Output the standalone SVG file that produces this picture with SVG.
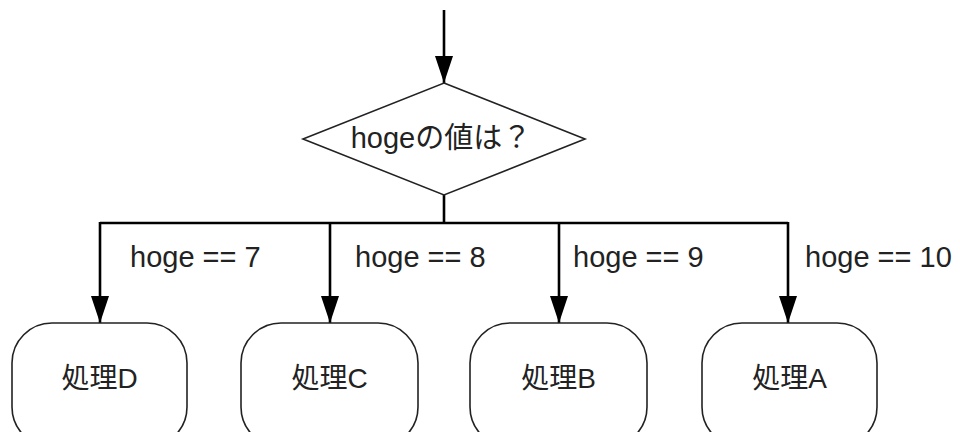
<svg xmlns="http://www.w3.org/2000/svg" width="960" height="432" viewBox="0 0 960 432">
<style>
.shape{fill:#fff;stroke:#222;stroke-width:1.6}
.line{fill:none;stroke:#000;stroke-width:2.6}
.t{font-family:"Liberation Sans","Noto Sans CJK JP",Arial,sans-serif;font-size:28px;fill:#222}
.lbl{font-size:29px}
.c{text-anchor:middle}
</style>
<defs>
<marker id="ah" viewBox="0 0 27 18" refX="27" refY="9" markerWidth="27" markerHeight="18" markerUnits="userSpaceOnUse" orient="auto">
<path d="M0,0 L27,9 L0,18 Z" fill="#000"/>
</marker>
</defs>
<g id="connectors">
<line class="line" x1="444" y1="10" x2="444" y2="83" marker-end="url(#ah)"/>
<polyline class="line" points="444,195 444,223"/>
<polyline class="line" points="100,223 788,223"/>
<line class="line" x1="100" y1="222" x2="100" y2="323" marker-end="url(#ah)"/>
<line class="line" x1="330" y1="223" x2="330" y2="323" marker-end="url(#ah)"/>
<line class="line" x1="559" y1="223" x2="559" y2="323" marker-end="url(#ah)"/>
<line class="line" x1="788" y1="222" x2="788" y2="323" marker-end="url(#ah)"/>
<text class="t lbl" x="130" y="267">hoge == 7</text>
<text class="t lbl" x="355" y="267">hoge == 8</text>
<text class="t lbl" x="573" y="267">hoge == 9</text>
<text class="t lbl" x="805" y="267">hoge == 10</text>
</g>
<g id="decision">
<polygon class="shape" points="444,83 585,139 444,195 303,139"/>
<text class="t lbl c" x="441" y="148">hogeの値は？</text>
</g>
<g id="procD">
<rect class="shape" x="12" y="323" width="175" height="124" rx="40" ry="40"/>
<text class="t c" x="99.5" y="388">処理D</text>
</g>
<g id="procC">
<rect class="shape" x="241" y="323" width="177" height="124" rx="40" ry="40"/>
<text class="t c" x="329.5" y="388">処理C</text>
</g>
<g id="procB">
<rect class="shape" x="470" y="323" width="177" height="124" rx="40" ry="40"/>
<text class="t c" x="558.5" y="388">処理B</text>
</g>
<g id="procA">
<rect class="shape" x="702" y="323" width="175" height="124" rx="40" ry="40"/>
<text class="t c" x="789.5" y="388">処理A</text>
</g>
</svg>
